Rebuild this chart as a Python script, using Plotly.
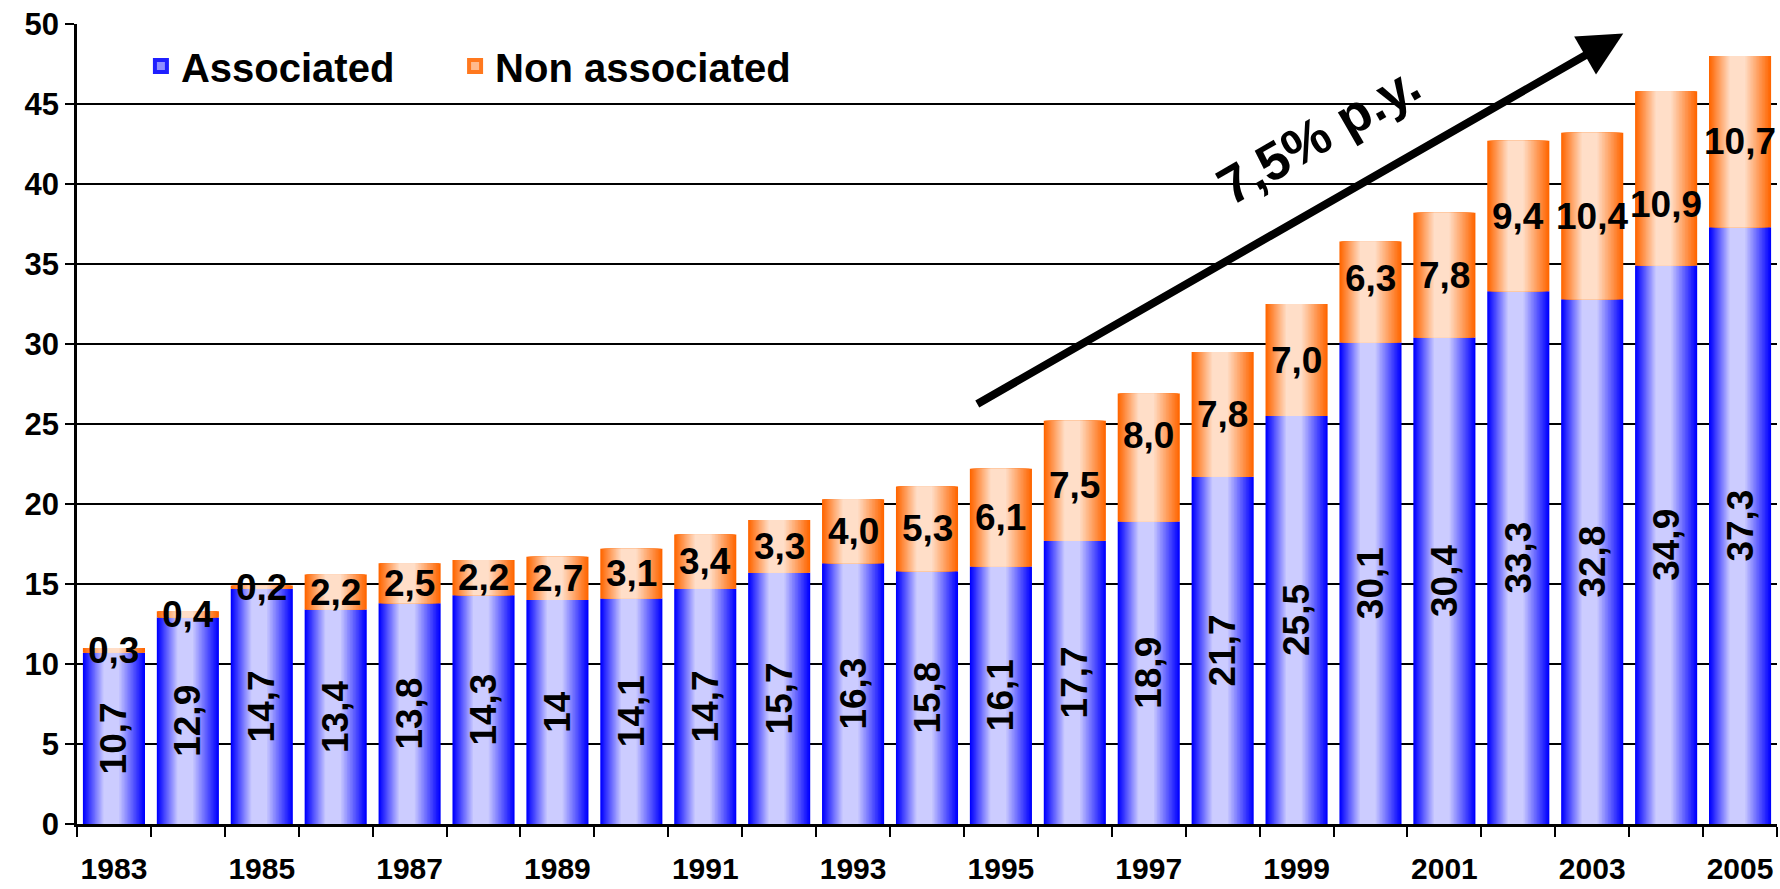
import plotly.graph_objects as go

# Gas production, associated vs non-associated (stacked), 1983-2005
years = [1983, 1984, 1985, 1986, 1987, 1988, 1989, 1990, 1991, 1992, 1993, 1994,
         1995, 1996, 1997, 1998, 1999, 2000, 2001, 2002, 2003, 2004, 2005]
associated = [10.7, 12.9, 14.7, 13.4, 13.8, 14.3, 14, 14.1, 14.7, 15.7, 16.3, 15.8,
              16.1, 17.7, 18.9, 21.7, 25.5, 30.1, 30.4, 33.3, 32.8, 34.9, 37.3]
non_associated = [0.3, 0.4, 0.2, 2.2, 2.5, 2.2, 2.7, 3.1, 3.4, 3.3, 4.0, 5.3,
                  6.1, 7.5, 8.0, 7.8, 7.0, 6.3, 7.8, 9.4, 10.4, 10.9, 10.7]
year_ticks = [1983, 1985, 1987, 1989, 1991, 1993, 1995, 1997, 1999, 2001, 2003, 2005]
growth_label = "7,5% p.y."

FONT = "Liberation Sans, Arial, sans-serif"
BAR_W = 0.84          # bar width in years
LEVELS = 18           # shading steps of the cylinder-like gradient
LIGHT_FROM, LIGHT_TO = 0.35, 0.56   # highlight band across the bar width

BLUE_EDGE, BLUE_CENTER = (0, 0, 255), (204, 204, 255)
ORANGE_EDGE, ORANGE_CENTER = (255, 102, 0), (255, 222, 200)

# pixel nudges for a few upper labels, keeping them clear of the arrow
LABEL_NUDGE = {1996: -5, 1997: 22, 2000: 14, 2004: -26}


def mix(c0, c1, s):
    return "rgb({},{},{})".format(*[round(a + (b - a) * s) for a, b in zip(c0, c1)])


def fmt_assoc(v):
    return f"{v:g}".replace(".", ",")


def fmt_non(v):
    return f"{v:.1f}".replace(".", ",")


fig = go.Figure()


def add_gradient_series(values, base, edge, center, name, legend_id):
    # nested bars, each narrower and lighter, give a horizontal shading
    for k in range(LEVELS):
        s = k / LEVELS
        left = LIGHT_FROM * s
        right = 1 - (1 - LIGHT_TO) * s
        fig.add_trace(go.Bar(
            x=years, y=values, base=base,
            width=BAR_W * (right - left),
            offset=-BAR_W / 2 + BAR_W * left,
            marker=dict(color=mix(edge, center, k / (LEVELS - 1)), line_width=0),
            name=name, legendgroup=name, showlegend=False,
            hoverinfo="skip",
        ))
    # legend swatch: light centre framed by the edge colour
    fig.add_trace(go.Bar(
        x=[None], y=[None], name=name, legendgroup=name, legend=legend_id,
        marker=dict(color=mix(edge, center, 0.7),
                    line=dict(color=mix(edge, center, 0.15), width=4)),
        showlegend=True, hoverinfo="skip",
    ))


add_gradient_series(associated, None, BLUE_EDGE, BLUE_CENTER, "Associated", "legend")
add_gradient_series(non_associated, associated, ORANGE_EDGE, ORANGE_CENTER,
                    "Non associated", "legend2")

# vertical value labels inside the associated part
fig.add_trace(go.Bar(
    x=years, y=associated, width=BAR_W, offset=-BAR_W / 2,
    marker=dict(color="rgba(0,0,0,0)", line_width=0),
    text=[fmt_assoc(v) for v in associated],
    textposition="inside", insidetextanchor="middle", textangle=-90,
    constraintext="none",
    insidetextfont=dict(family=FONT, size=37, color="black", weight="bold"),
    showlegend=False, hoverinfo="skip",
))

# horizontal value labels centred on the non-associated part
for yr, a, n in zip(years, associated, non_associated):
    fig.add_annotation(
        x=yr, y=a + n / 2, xref="x", yref="y",
        text=fmt_non(n), showarrow=False,
        yshift=LABEL_NUDGE.get(yr, 0),
        font=dict(family=FONT, size=37, color="black", weight="bold"),
    )

# growth trend arrow with its label
fig.add_annotation(
    x=2003.42, y=49.4, ax=1994.66, ay=26.2,
    xref="x", yref="y", axref="x", ayref="y",
    text="", showarrow=True, arrowhead=2, arrowsize=1.1,
    arrowwidth=8, arrowcolor="black",
)
fig.add_annotation(
    x=1999.3, y=43.1, xref="x", yref="y",
    text=growth_label, showarrow=False, textangle=-30,
    font=dict(family=FONT, size=53, color="black", weight="bold"),
)

legend_style = dict(
    orientation="h", y=0.988, xanchor="left", yanchor="top",
    font=dict(family=FONT, size=40, color="black", weight="bold"),
    bgcolor="rgba(0,0,0,0)",
)

fig.update_layout(
    width=1780, height=889,
    margin=dict(l=77, r=3, t=24, b=65, autoexpand=False),
    paper_bgcolor="white", plot_bgcolor="white",
    barmode="overlay",
    font=dict(family=FONT, color="black", weight="bold"),
    legend=dict(x=0.0376, **legend_style),
    legend2=dict(x=0.2224, **legend_style),
    showlegend=True,
)

fig.update_xaxes(
    range=[1982.5, 2005.5], automargin=False,
    tickmode="array", tickvals=year_ticks, ticktext=[str(y) for y in year_ticks],
    ticks="outside", ticklen=0, ticklabelstandoff=16,
    tickfont=dict(family=FONT, size=30, color="black", weight="bold"),
    minor=dict(tick0=1982.5, dtick=1, ticks="outside", ticklen=10,
               tickcolor="black", tickwidth=2, showgrid=False),
    showgrid=False, showline=True, linecolor="black", linewidth=2.5,
    zeroline=False,
)
fig.update_yaxes(
    range=[0, 50], tickmode="linear", tick0=0, dtick=5, automargin=False,
    ticks="outside", ticklen=9, tickcolor="black", tickwidth=2,
    tickfont=dict(family=FONT, size=31, color="black", weight="bold"),
    showgrid=True, gridcolor="black", gridwidth=1.5,
    showline=True, linecolor="black", linewidth=2.5, zeroline=False,
)

fig.write_html("out.html")
